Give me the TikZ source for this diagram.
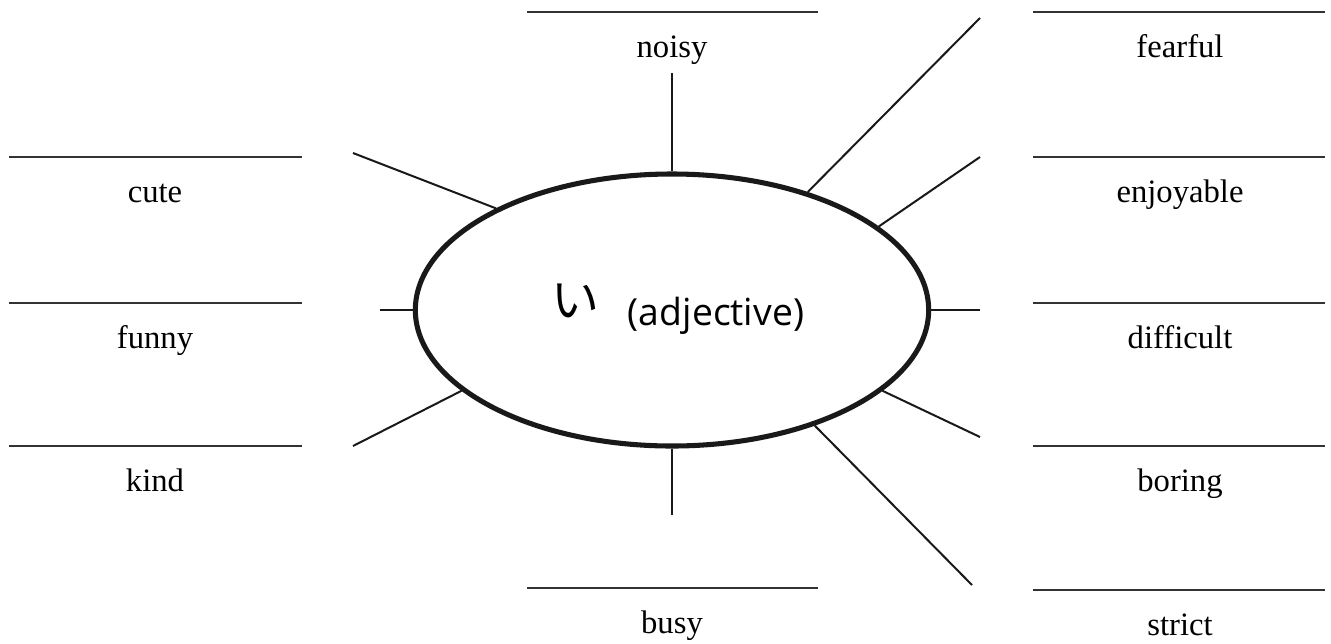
\documentclass[tikz,border=0pt]{standalone}
\usepackage{fontspec}
\setmainfont{Liberation Serif}
\newfontfamily\adjfont{Open Sans}
\newfontfamily\jpfont{Noto Sans CJK JP}
\usetikzlibrary{shapes.geometric}
\tikzset{
	word/.style={anchor=base, inner sep=0pt, font=\fontsize{24.5}{28}\selectfont},
	blank/.style={draw=black!80, line width=1.2pt},
	spoke/.style={draw=black!90, line width=1.5pt},
}
\begin{document}
\begin{tikzpicture}[x=0.75pt, y=-0.75pt]
	\useasboundingbox (0,0) rectangle (1331,643);
	% centre
	\node at (672,310) [ellipse, draw=black!90, line width=3.8pt, minimum width=385pt, minimum height=204pt, inner sep=0pt] (adj) {};
	\node at (575,301) [inner sep=0pt, font=\jpfont\fontsize{36}{36}\selectfont] (hira) {い};
	\node at (716,325) [anchor=base, inner sep=0pt, font=\adjfont\fontsize{28}{30}\selectfont] (adjtext) {(adjective)};
	% answer lines
	\draw[blank] (9,157) -- (302,157);
	\draw[blank] (9,303) -- (302,303);
	\draw[blank] (9,446) -- (302,446);
	\draw[blank] (527,12) -- (818,12);
	\draw[blank] (527,588) -- (818,588);
	\draw[blank] (1033,12) -- (1325,12);
	\draw[blank] (1033,157) -- (1325,157);
	\draw[blank] (1033,303) -- (1325,303);
	\draw[blank] (1033,446) -- (1325,446);
	\draw[blank] (1033,590) -- (1325,590);
	% words
	\node at (155,202) [word] (cute) {cute};
	\node at (155,348) [word] (funny) {funny};
	\node at (155,491) [word] (kind) {kind};
	\node at (672,57) [word] (noisy) {noisy};
	\node at (672,633) [word] (busy) {busy};
	\node at (1180,57) [word] (fearful) {fearful};
	\node at (1180,202) [word] (enjoyable) {enjoyable};
	\node at (1180,348) [word] (difficult) {difficult};
	\node at (1180,491) [word] (boring) {boring};
	\node at (1180,635) [word] (strict) {strict};
	% free ends of the spokes
	\coordinate (cuteend) at (353,153);
	\coordinate (funnyend) at (380,310);
	\coordinate (kindend) at (353,446);
	\coordinate (noisyend) at (672,73);
	\coordinate (busyend) at (672,515);
	\coordinate (fearfulend) at (980,18);
	\coordinate (enjoyableend) at (980,157);
	\coordinate (difficultend) at (980,310);
	\coordinate (boringend) at (980,437);
	\coordinate (strictend) at (972,585);
	% spokes
	\draw[spoke] (adj.150) -- (cuteend);
	\draw[spoke] (adj.180) -- (funnyend);
	\draw[spoke] (adj.201) -- (kindend);
	\draw[spoke] (adj.90) -- (noisyend);
	\draw[spoke] (adj.270) -- (busyend);
	\draw[spoke] (adj.41) -- (fearfulend);
	\draw[spoke] (adj.22) -- (enjoyableend);
	\draw[spoke] (adj.0) -- (difficultend);
	\draw[spoke] (adj.-21) -- (boringend);
	\draw[spoke] (adj.-39) -- (strictend);
\end{tikzpicture}
\end{document}
